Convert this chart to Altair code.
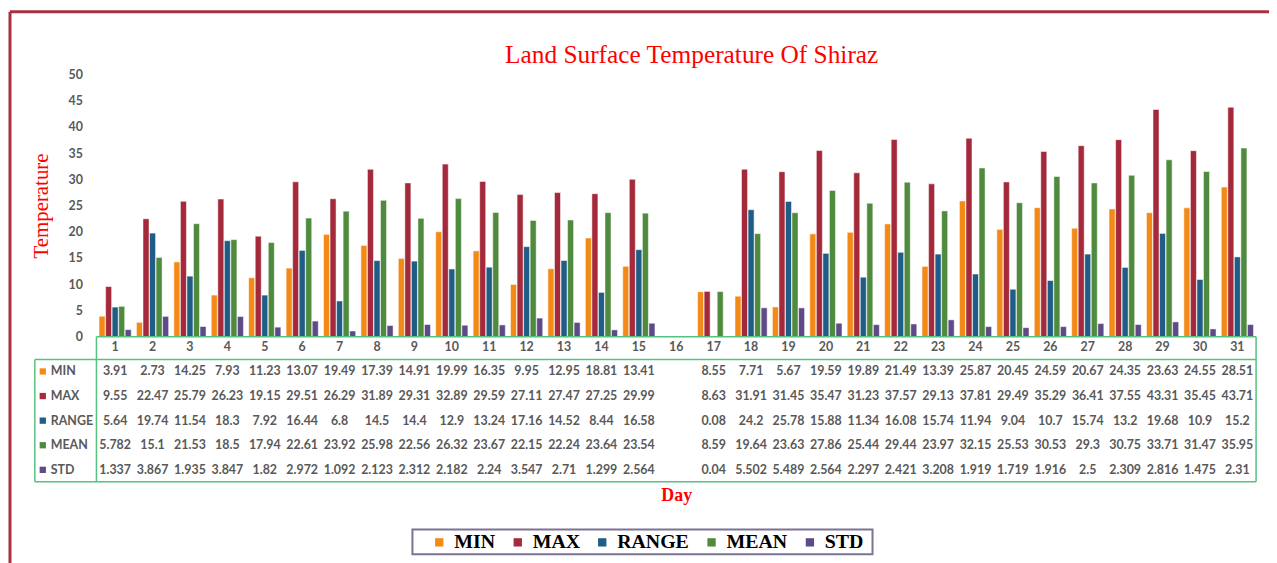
import altair as alt
import pandas as pd

# ---------------- data ----------------
days = list(range(1, 32))
series = ["MIN", "MAX", "RANGE", "MEAN", "STD"]
colors = ["#F38A17", "#A42A3B", "#1F5D86", "#4F8A3E", "#5E4A89"]

MIN = [3.91, 2.73, 14.25, 7.93, 11.23, 13.07, 19.49, 17.39, 14.91, 19.99, 16.35, 9.95, 12.95, 18.81, 13.41,
       None, 8.55, 7.71, 5.67, 19.59, 19.89, 21.49, 13.39, 25.87, 20.45, 24.59, 20.67, 24.35, 23.63, 24.55, 28.51]
MAX = [9.55, 22.47, 25.79, 26.23, 19.15, 29.51, 26.29, 31.89, 29.31, 32.89, 29.59, 27.11, 27.47, 27.25, 29.99,
       None, 8.63, 31.91, 31.45, 35.47, 31.23, 37.57, 29.13, 37.81, 29.49, 35.29, 36.41, 37.55, 43.31, 35.45, 43.71]
RANGE = [5.64, 19.74, 11.54, 18.3, 7.92, 16.44, 6.8, 14.5, 14.4, 12.9, 13.24, 17.16, 14.52, 8.44, 16.58,
         None, 0.08, 24.2, 25.78, 15.88, 11.34, 16.08, 15.74, 11.94, 9.04, 10.7, 15.74, 13.2, 19.68, 10.9, 15.2]
MEAN = [5.782, 15.1, 21.53, 18.5, 17.94, 22.61, 23.92, 25.98, 22.56, 26.32, 23.67, 22.15, 22.24, 23.64, 23.54,
        None, 8.59, 19.64, 23.63, 27.86, 25.44, 29.44, 23.97, 32.15, 25.53, 30.53, 29.3, 30.75, 33.71, 31.47, 35.95]
STD = [1.337, 3.867, 1.935, 3.847, 1.82, 2.972, 1.092, 2.123, 2.312, 2.182, 2.24, 3.547, 2.71, 1.299, 2.564,
       None, 0.04, 5.502, 5.489, 2.564, 2.297, 2.421, 3.208, 1.919, 1.719, 1.916, 2.5, 2.309, 2.816, 1.475, 2.31]

y_ticks = list(range(0, 51, 5))
title_text = "Land Surface Temperature Of Shiraz"

values = dict(zip(series, [MIN, MAX, RANGE, MEAN, STD]))
rows = []
for i, d in enumerate(days):
    for s in series:
        v = values[s][i]
        if v is None:
            continue
        rows.append({"day": d, "series": s, "value": v, "label": f"{v:g}"})
df = pd.DataFrame(rows)
df_series = pd.DataFrame({"series": series})
dummy = pd.DataFrame({"a": [0]})
df_title = pd.DataFrame({"t": [title_text]})

# ---------------- styling ----------------
W, H = 1167, 264
GRAY = "#595959"
GREEN = "#55C27F"
FRAME = "#A8303F"
NUMFONT = "Lato"
SERIF = "Liberation Serif"

color_scale = alt.Scale(domain=series, range=colors)
x_enc = alt.X(
    "day:O", sort=days,
    scale=alt.Scale(domain=days, paddingInner=0.14, paddingOuter=0.07),
    axis=alt.Axis(title="Day", labelAngle=0, ticks=False, domain=False, grid=False,
                  labelFont=NUMFONT, labelFontSize=12.5, labelFontWeight="bold",
                  labelColor=GRAY, labelPadding=4,
                  titleFont=SERIF, titleFontSize=18, titleFontWeight="bold",
                  titleColor="#FF0000", titleY=160, titleBaseline="middle"),
)

bars = alt.Chart(df).mark_bar(stroke="white", strokeWidth=0.5).encode(
    x=x_enc,
    xOffset=alt.XOffset("series:N", sort=series,
                        scale=alt.Scale(domain=series, paddingInner=0.08, paddingOuter=0)),
    y=alt.Y("value:Q", scale=alt.Scale(domain=[0, 50], nice=False),
            axis=alt.Axis(values=y_ticks, grid=False, domain=False, ticks=False,
                          labelFont=NUMFONT, labelFontSize=12.5, labelFontWeight="bold",
                          labelColor=GRAY, labelPadding=14,
                          title="Temperature", titleFont=SERIF, titleFontSize=21,
                          titleFontWeight="normal", titleColor="#FF0000",
                          titleAngle=-90, titleX=-55, titleY=H / 2,
                          titleBaseline="middle", titleAlign="center")),
    color=alt.Color("series:N", sort=series, scale=color_scale,
                    legend=alt.Legend(title=None, orient="none", direction="horizontal",
                                      legendX=335, legendY=461, padding=0,
                                      symbolType="square", symbolSize=70,
                                      symbolStrokeWidth=0, symbolOpacity=1,
                                      labelFont=SERIF, labelFontSize=20,
                                      labelFontWeight="bold", labelColor="#000000",
                                      labelOffset=5, columnPadding=12)),
)

row_y = alt.Y("series:N", sort=series,
              scale=alt.Scale(domain=series, range=[299, 398], padding=0), axis=None)

table_text = alt.Chart(df).mark_text(
    font=NUMFONT, fontSize=12.5, fontWeight="bold", color=GRAY, baseline="middle"
).encode(x=alt.X("day:O", sort=days), y=row_y, text="label:N")

row_labels = alt.Chart(df_series).mark_text(
    font=NUMFONT, fontSize=12.5, fontWeight="bold", color=GRAY, align="left", baseline="middle"
).encode(x=alt.value(-46), y=row_y, text="series:N")

row_squares = alt.Chart(df_series).mark_square(size=40, opacity=1).encode(
    x=alt.value(-54), y=row_y,
    color=alt.Color("series:N", sort=series, scale=color_scale),
)

table = alt.layer(table_text, row_labels, row_squares)


def hline(x1, x2, y, color, width):
    return alt.Chart(dummy).mark_rule(color=color, strokeWidth=width).encode(
        x=alt.value(x1), x2=alt.value(x2), y=alt.value(y), y2=alt.value(y))


def vline(x, y1, y2, color, width):
    return alt.Chart(dummy).mark_rule(color=color, strokeWidth=width).encode(
        x=alt.value(x), x2=alt.value(x), y=alt.value(y1), y2=alt.value(y2))


lines = [
    hline(0, W, H, GREEN, 1.5),
    hline(-62, W, 287, GREEN, 1.5),
    hline(-62, W, 410, GREEN, 1.5),
    vline(-62, 287, 410, GREEN, 1.5),
    vline(0, H, 410, GREEN, 1.5),
    vline(W, H, 410, GREEN, 1.5),
    hline(-87, 1185, -63, FRAME, 3),
    vline(-87, -63, 495, FRAME, 3),
]

legend_box = alt.Chart(dummy).mark_rect(fill="white", stroke="#7A7393", strokeWidth=2).encode(
    x=alt.value(318), x2=alt.value(781), y=alt.value(458), y2=alt.value(483))

title_mark = alt.Chart(df_title).mark_text(
    font=SERIF, fontSize=25.5, color="#FF0000", baseline="alphabetic", align="center"
).encode(x=alt.value(599), y=alt.value(-11), text="t:N")

chart = alt.layer(
    legend_box, title_mark, bars, table, *lines
).resolve_scale(y="independent").properties(
    width=W, height=H,
    background="white",
    autosize=alt.AutoSizeParams(type="none"),
    padding={"left": 89, "top": 65, "right": 13, "bottom": 226},
).configure_view(stroke=None).configure_axis(
    domain=False, grid=False, ticks=False
)

chart.save("out.html", embed_options={"renderer": "svg", "actions": False})
